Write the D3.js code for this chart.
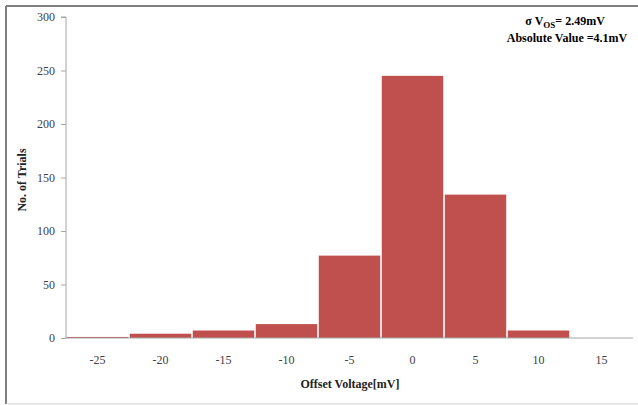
<!DOCTYPE html>
<html><head><meta charset="utf-8">
<script src="https://cdn.jsdelivr.net/npm/d3@7"></script>
<style>body{margin:0;background:#fff}svg{display:block}</style>
</head><body>
<svg id="c" width="638" height="405"></svg>
<script>
const categories = [-25, -20, -15, -10, -5, 0, 5, 10, 15];
const trials = [1, 4, 7, 13, 77, 245, 134, 7, 0];
const yTicks = [0, 50, 100, 150, 200, 250, 300];

const svg = d3.select("#c");
const W = 638, H = 405;
const m = {l: 66, r: 5, t: 17, b: 67};
const x = d3.scaleBand().domain(categories).range([m.l, W - m.r]).paddingInner(0.025).paddingOuter(0.012);
const y = d3.scaleLinear().domain([0, 300]).range([H - m.b, m.t]);

// outer frame
svg.append("line").attr("x1", 6).attr("x2", W).attr("y1", 6).attr("y2", 6).attr("stroke", "#7f7f7f").attr("stroke-width", 2);
svg.append("line").attr("x1", 6).attr("x2", 6).attr("y1", 6).attr("y2", 404).attr("stroke", "#7f7f7f").attr("stroke-width", 2);
svg.append("line").attr("x1", 6).attr("x2", W).attr("y1", 404).attr("y2", 404).attr("stroke", "#d0d0d0").attr("stroke-width", 1);

// bars
svg.append("g").selectAll("rect").data(categories).join("rect")
  .attr("x", d => x(d))
  .attr("width", x.bandwidth())
  .attr("y", (d, i) => y(trials[i]))
  .attr("height", (d, i) => y(0) - y(trials[i]))
  .attr("fill", "#C0504D");

// y axis
const ya = svg.append("g").attr("transform", `translate(${m.l},0)`)
  .call(d3.axisLeft(y).tickValues(yTicks).tickSize(5).tickPadding(6));
ya.select(".domain").attr("stroke", "#a6a6a6").attr("d", `M-5,${y(300)}H0V${y(0)}`);
ya.selectAll(".tick line").attr("stroke", "#a6a6a6");
ya.selectAll(".tick text").attr("font-family", "Liberation Serif").attr("font-size", 12).attr("fill", "#404040");

// x axis
const xa = svg.append("g").attr("transform", `translate(0,${y(0)})`)
  .call(d3.axisBottom(x).tickSize(0).tickPadding(17));
xa.select(".domain").attr("stroke", "#a6a6a6").attr("d", `M${m.l},0H${W - m.r}`);
xa.selectAll(".tick text").attr("font-family", "Liberation Serif").attr("font-size", 12).attr("fill", "#404040");

// titles
svg.append("text").attr("x", 350).attr("y", 388).attr("text-anchor", "middle")
  .attr("font-family", "Liberation Serif").attr("font-weight", "bold").attr("font-size", 12).attr("fill", "#222")
  .text("Offset Voltage[mV]");
svg.append("text").attr("transform", "translate(26,180) rotate(-90)").attr("text-anchor", "middle")
  .attr("font-family", "Liberation Serif").attr("font-weight", "bold").attr("font-size", 12).attr("fill", "#222")
  .text("No. of Trials");

// annotation
const a1 = svg.append("text").attr("x", 565).attr("y", 25).attr("text-anchor", "middle")
  .attr("font-family", "Liberation Serif").attr("font-weight", "bold").attr("font-size", 12).attr("fill", "#000");
a1.append("tspan").text("σ V");
a1.append("tspan").attr("font-size", 9).attr("dy", 3).text("OS");
a1.append("tspan").attr("dy", -3).text("= 2.49mV");
svg.append("text").attr("x", 567).attr("y", 42).attr("text-anchor", "middle")
  .attr("font-family", "Liberation Serif").attr("font-weight", "bold").attr("font-size", 12).attr("fill", "#000")
  .text("Absolute Value =4.1mV");
</script>
</body></html>
